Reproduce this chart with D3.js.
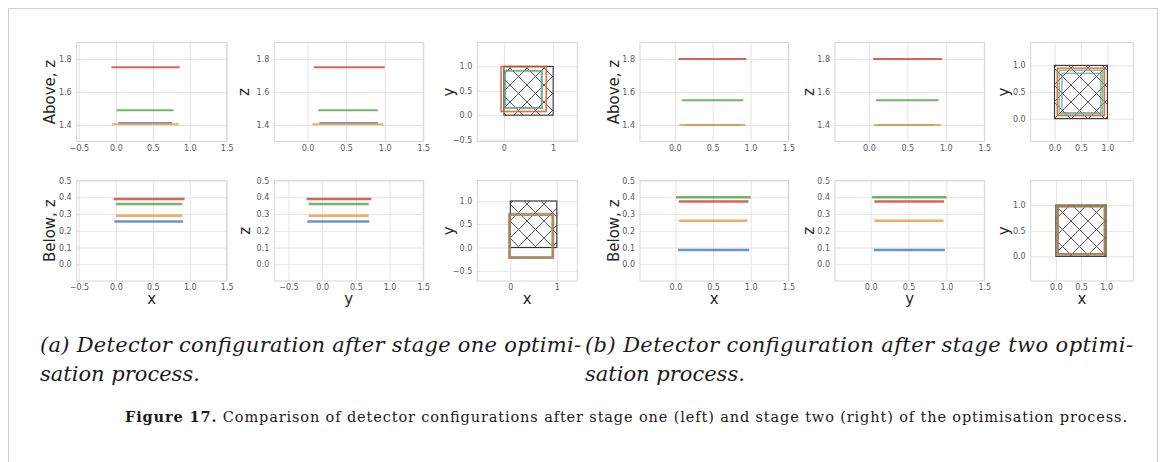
<!DOCTYPE html>
<html><head><meta charset="utf-8">
<script src="https://cdn.jsdelivr.net/npm/d3@7"></script>
<style>body{margin:0;background:#fff}svg{display:block}</style>
</head><body>
<svg id="fig" width="1167" height="462"></svg>
<script>
// Detector layers, drawn in this order
const layerNames  = ["blue", "orange", "green", "red"];
const layerColors = ["#5283bd", "#f29b4c", "#5aa951", "#d4493d"];

// Stage one — layers above the passive volume
const s1AboveZ  = [1.412, 1.405, 1.49, 1.75];
const s1AboveX0 = [0.03, -0.05, 0.01, -0.06];
const s1AboveX1 = [0.76, 0.85, 0.78, 0.865];
const s1AboveY0 = [0.155, 0.065, 0.14, 0.08];
const s1AboveY1 = [0.91, 0.98, 0.91, 1.0];

// Stage one — layers below the passive volume
const s1BelowZ  = [0.255, 0.29, 0.36, 0.39];
const s1BelowX0 = [-0.02, 0.0, 0.0, -0.03];
const s1BelowX1 = [0.91, 0.9, 0.9, 0.93];
const s1BelowY0 = [-0.22, -0.2, -0.2, -0.23];
const s1BelowY1 = [0.70, 0.69, 0.69, 0.73];

// Stage two — layers above
const s2AboveZ  = [1.40, 1.40, 1.55, 1.80];
const s2AboveX0 = [0.14, 0.06, 0.09, 0.05];
const s2AboveX1 = [0.875, 0.935, 0.905, 0.945];
const s2AboveY0 = [0.11, 0.065, 0.09, 0.055];
const s2AboveY1 = [0.85, 0.935, 0.905, 0.95];

// Stage two — layers below
const s2BelowZ  = [0.085, 0.26, 0.40, 0.375];
const s2BelowX0 = [0.035, 0.045, 0.01, 0.045];
const s2BelowX1 = [0.98, 0.955, 1.0, 0.97];
const s2BelowY0 = [0.045, 0.05, 0.02, 0.05];
const s2BelowY1 = [0.98, 0.96, 1.0, 0.97];

// Passive volume outline (hatched square)
const passiveX = [0, 1];
const passiveY = [0, 1];

// Tick values
const ticksAboveZ = [1.4, 1.6, 1.8];
const ticksBelowZ = [0.0, 0.1, 0.2, 0.3, 0.4, 0.5];
const ticksWide   = [-0.5, 0.0, 0.5, 1.0, 1.5];
const ticksPos    = [0.0, 0.5, 1.0, 1.5];
const ticksUnit   = [0, 1];
const ticksSquare = [-0.5, 0.0, 0.5, 1.0];
const ticksHalf   = [0.0, 0.5, 1.0];

// Captions
const subCaptionA = ["(a) Detector configuration after stage one optimi-", "sation process."];
const subCaptionB = ["(b) Detector configuration after stage two optimi-", "sation process."];
const figLabel = "Figure 17.";
const figText = " Comparison of detector configurations after stage one (left) and stage two (right) of the optimisation process.";

const svg = d3.select("#fig");
const defs = svg.append("defs");

// cross hatch
const hp = defs.append("pattern").attr("id", "hatchX")
  .attr("patternUnits", "userSpaceOnUse").attr("width", 17).attr("height", 17);
hp.append("path").attr("d", "M0,0L17,17M17,0L0,17")
  .attr("stroke", "#474747").attr("stroke-width", 0.9).attr("fill", "none");

// page frame
svg.append("rect").attr("x", 8.5).attr("y", 8.5).attr("width", 1149).attr("height", 470)
  .attr("fill", "none").attr("stroke", "#cfcfcf").attr("stroke-width", 1);

const fmt1 = d3.format(".1f");
const fmt0 = d3.format("d");
const tickFont = "DejaVu Sans, sans-serif";

function makePanel(box, xd, yd, xt, yt, fx, fy) {
  const g = svg.append("g");
  const x = d3.scaleLinear().domain(xd).range([box.l, box.r]);
  const y = d3.scaleLinear().domain(yd).range([box.b, box.t]);
  g.append("rect").attr("x", box.l).attr("y", box.t)
    .attr("width", box.r - box.l).attr("height", box.b - box.t).attr("fill", "#fff");
  const ax = g.append("g").attr("transform", `translate(0,${box.b})`)
    .call(d3.axisBottom(x).tickValues(xt).tickFormat(fx)
      .tickSize(-(box.b - box.t)).tickPadding(3.5));
  const ay = g.append("g").attr("transform", `translate(${box.l},0)`)
    .call(d3.axisLeft(y).tickValues(yt).tickFormat(fy)
      .tickSize(-(box.r - box.l)).tickPadding(5));
  [ax, ay].forEach(a => {
    a.select(".domain").remove();
    a.selectAll("line").attr("stroke", "#e4e4e4").attr("stroke-width", 1);
    a.selectAll("text").attr("fill", "#5a5a5a").attr("font-size", 8)
      .attr("font-family", tickFont);
  });
  g.append("rect").attr("x", box.l).attr("y", box.t)
    .attr("width", box.r - box.l).attr("height", box.b - box.t)
    .attr("fill", "none").attr("stroke", "#d6d6d6").attr("stroke-width", 1);
  const marks = g.append("g");
  return {g, x, y, marks, box};
}

function yLabel(p, text, lx) {
  const cy = (p.box.t + p.box.b) / 2;
  svg.append("text").attr("transform", `translate(${lx},${cy}) rotate(-90)`)
    .attr("text-anchor", "middle").attr("dy", "0.35em")
    .attr("font-family", tickFont).attr("font-size", 15).attr("fill", "#262626")
    .text(text);
}
function xLabel(p, text) {
  svg.append("text").attr("x", (p.box.l + p.box.r) / 2).attr("y", 304)
    .attr("text-anchor", "middle")
    .attr("font-family", tickFont).attr("font-size", 15).attr("fill", "#262626")
    .text(text);
}

function drawLines(p, z, a0, a1, width) {
  const line = d3.line().x(d => p.x(d[0])).y(d => p.y(d[1]));
  layerNames.forEach((n, i) => {
    p.marks.append("path").datum([[a0[i], z[i]], [a1[i], z[i]]])
      .attr("d", line).attr("stroke", layerColors[i]).attr("stroke-width", width)
      .attr("stroke-opacity", 0.85).attr("fill", "none");
  });
}

function drawRects(p, x0, x1, y0, y1) {
  // passive volume
  p.marks.append("rect")
    .attr("x", p.x(passiveX[0])).attr("y", p.y(passiveY[1]))
    .attr("width", p.x(passiveX[1]) - p.x(passiveX[0]))
    .attr("height", p.y(passiveY[0]) - p.y(passiveY[1]))
    .attr("fill", "url(#hatchX)").attr("stroke", "#333").attr("stroke-width", 1.1);
  layerNames.forEach((n, i) => {
    p.marks.append("rect")
      .attr("x", p.x(x0[i])).attr("y", p.y(y1[i]))
      .attr("width", p.x(x1[i]) - p.x(x0[i]))
      .attr("height", p.y(y0[i]) - p.y(y1[i]))
      .attr("fill", "none").attr("stroke", layerColors[i])
      .attr("stroke-width", 1.4).attr("stroke-opacity", 0.7);
  });
}

const topT = 42.5, topB = 141.5, botT = 180.5, botB = 281;
const cols = [
  [76.7, 226.7], [274.3, 423.3], [477.3, 577.3],
  [640, 788.3], [835, 984.3], [1030.7, 1133.3]
];
const bx = (c, t, b) => ({l: cols[c][0], r: cols[c][1], t, b});

// ---- (a) stage one ----
const p1 = makePanel(bx(0, topT, topB), [-0.53, 1.5], [1.3, 1.9], ticksWide, ticksAboveZ, fmt1, fmt1);
drawLines(p1, s1AboveZ, s1AboveX0, s1AboveX1, 2);
yLabel(p1, "Above, z", 50);

const p2 = makePanel(bx(1, topT, topB), [-0.43, 1.5], [1.3, 1.9], ticksPos, ticksAboveZ, fmt1, fmt1);
drawLines(p2, s1AboveZ, s1AboveY0, s1AboveY1, 2);
yLabel(p2, "z", 244);

const p3 = makePanel(bx(2, topT, topB), [-0.54, 1.49], [-0.54, 1.49], ticksUnit, ticksSquare, fmt0, fmt1);
drawRects(p3, s1AboveX0, s1AboveX1, s1AboveY0, s1AboveY1);
yLabel(p3, "y", 448.5);

const p4 = makePanel(bx(0, botT, botB), [-0.53, 1.5], [-0.1, 0.5], ticksWide, ticksBelowZ, fmt1, fmt1);
drawLines(p4, s1BelowZ, s1BelowX0, s1BelowX1, 2.5);
yLabel(p4, "Below, z", 50);
xLabel(p4, "x");

const p5 = makePanel(bx(1, botT, botB), [-0.71, 1.5], [-0.1, 0.5], ticksWide, ticksBelowZ, fmt1, fmt1);
drawLines(p5, s1BelowZ, s1BelowY0, s1BelowY1, 2.5);
yLabel(p5, "z", 245);
xLabel(p5, "y");

const p6 = makePanel(bx(2, botT, botB), [-0.71, 1.44], [-0.72, 1.44], ticksUnit, ticksSquare, fmt0, fmt1);
drawRects(p6, s1BelowX0, s1BelowX1, s1BelowY0, s1BelowY1);
yLabel(p6, "y", 448.5);
xLabel(p6, "x");

// ---- (b) stage two ----
const p7 = makePanel(bx(3, topT, topB), [-0.46, 1.5], [1.3, 1.9], ticksPos, ticksAboveZ, fmt1, fmt1);
drawLines(p7, s2AboveZ, s2AboveX0, s2AboveX1, 2);
yLabel(p7, "Above, z", 613.5);

const p8 = makePanel(bx(4, topT, topB), [-0.44, 1.5], [1.3, 1.9], ticksPos, ticksAboveZ, fmt1, fmt1);
drawLines(p8, s2AboveZ, s2AboveY0, s2AboveY1, 2);
yLabel(p8, "z", 808.5);

const p9 = makePanel(bx(5, topT, topB), [-0.45, 1.49], [-0.43, 1.43], ticksHalf, ticksHalf, fmt1, fmt1);
drawRects(p9, s2AboveX0, s2AboveX1, s2AboveY0, s2AboveY1);
yLabel(p9, "y", 1003.5);

const p10 = makePanel(bx(3, botT, botB), [-0.47, 1.5], [-0.1, 0.5], ticksPos, ticksBelowZ, fmt1, fmt1);
drawLines(p10, s2BelowZ, s2BelowX0, s2BelowX1, 2.5);
yLabel(p10, "Below, z", 613.5);
xLabel(p10, "x");

const p11 = makePanel(bx(4, botT, botB), [-0.47, 1.5], [-0.1, 0.5], ticksPos, ticksBelowZ, fmt1, fmt1);
drawLines(p11, s2BelowZ, s2BelowY0, s2BelowY1, 2.5);
yLabel(p11, "z", 808.5);
xLabel(p11, "y");

const p12 = makePanel(bx(5, botT, botB), [-0.5, 1.54], [-0.48, 1.48], ticksHalf, ticksHalf, fmt1, fmt1);
drawRects(p12, s2BelowX0, s2BelowX1, s2BelowY0, s2BelowY1);
yLabel(p12, "y", 1003.5);
xLabel(p12, "x");

// ---- captions ----
// size each sub-caption so its first line spans the target width naturally
function subCaption(lines, x0, w0) {
  const base = [352, 381];
  const t = lines.map((s, i) => svg.append("text").attr("x", x0).attr("y", base[i])
      .attr("font-family", "DejaVu Serif, serif").attr("font-style", "italic")
      .attr("font-size", 20).attr("fill", "#1a1a1a").text(s));
  const w = t[0].node().getComputedTextLength();
  const size = Math.min(20 * w0 / w, 21);
  t.forEach(n => n.attr("font-size", size));
  t[0].attr("textLength", w0).attr("lengthAdjust", "spacing");
}
subCaption(subCaptionA, 40, 541);
subCaption(subCaptionB, 585, 548);

const fc = svg.append("text").attr("x", 125).attr("y", 422)
  .attr("font-family", "DejaVu Serif, serif").attr("font-size", 14.5).attr("fill", "#1a1a1a")
  .attr("textLength", 1002).attr("lengthAdjust", "spacing");
fc.append("tspan").attr("font-weight", "bold").text(figLabel);
fc.append("tspan").text(figText);
</script>
</body></html>
